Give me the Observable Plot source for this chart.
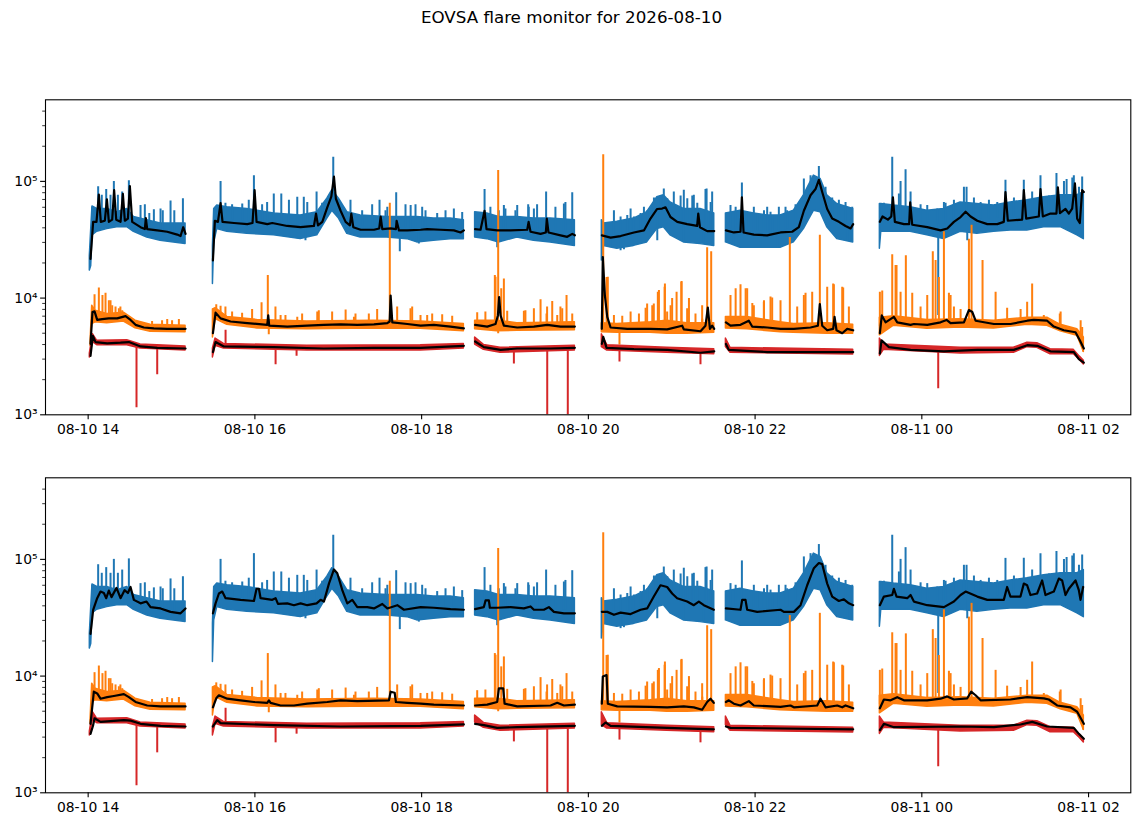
<!DOCTYPE html>
<html>
<head>
<meta charset="utf-8">
<script src="https://cdn.jsdelivr.net/npm/d3@7"></script>
<script src="https://cdn.jsdelivr.net/npm/@observablehq/plot@0.6"></script>
<style>
  body { margin: 0; background: white; }
  #fig { position: relative; width: 1143px; height: 826px; background: white; font-family: "DejaVu Sans", sans-serif; }
  #title { position: absolute; left: 0; top: 7px; width: 1143px; text-align: center; font-size: 16.7px; line-height: 20px; color: black; }
  .panel { position: absolute; left: 0; }
</style>
</head>
<body>
<div id="fig">
  <div id="title">EOVSA flare monitor for 2026-08-10</div>
  <div id="p1" class="panel" style="top:0px"></div>
  <div id="p2" class="panel" style="top:440px"></div>
</div>
<script>
// ---- data: time in minutes after 2026-08-10 14:00 UT ----
const segBreaks = [80, 274, 360, 455, 560];
const xTicks = [0, 120, 240, 360, 480, 600, 720];
const yMajor = [1e3, 1e4, 1e5];
const yMinor = [2e3,3e3,4e3,5e3,6e3,7e3,8e3,9e3,2e4,3e4,4e4,5e4,6e4,7e4,8e4,9e4,2e5,3e5,4e5];

// raw channel envelopes: [t, low, high]
const blueBand = [
 [1.2,1.72e4,2.3e4],[2.2,1.88e4,3.9e4],[3.1,3.45e4,6.1e4],[6.5,3.7e4,5.8e4],[13.7,3.9e4,5.8e4],[20.9,4.05e4,5.45e4],[28.1,4.05e4,5.8e4],[32.9,3.7e4,4.95e4],[42.5,3.3e4,4.65e4],[52.1,3.1e4,4.35e4],[61.7,3.0e4,4.35e4],[70.1,2.9e4,4.35e4],
 [89.8,1.32e4,2.8e4],[90.7,3.0e4,5.8e4],[92.9,3.9e4,6.2e4],[100.1,3.7e4,6.0e4],[114.5,3.55e4,5.8e4],[133.7,3.45e4,5.3e4],[152.9,3.2e4,5.1e4],[164.9,3.45e4,5.45e4],[172.1,4.8e4,7.1e4],[175.7,5.6e4,8.4e4],[180.5,4.8e4,7.1e4],[186.5,3.55e4,5.45e4],[196.1,3.3e4,5.1e4],[215.3,3.3e4,4.95e4],[229.7,3.2e4,4.95e4],[236.8,3.0e4,4.95e4],[248.8,3.1e4,4.8e4],[260.8,3.2e4,4.8e4],[270.4,3.2e4,4.65e4],
 [278.5,3.3e4,5.45e4],[287.2,3.2e4,5.3e4],[295.6,3.0e4,4.95e4],[308.8,3.3e4,4.95e4],[320.8,3.1e4,4.8e4],[332.8,3.0e4,4.8e4],[350.3,2.8e4,4.65e4],
 [369.7,2.1e4,4.65e4],[371.2,2.8e4,4.35e4],[380.8,2.65e4,4.5e4],[392.8,2.8e4,4.8e4],[402.3,3.0e4,5.45e4],[409.5,3.9e4,7.3e4],[414.3,4.05e4,7.6e4],[419.1,3.45e4,6.6e4],[428.7,3.0e4,5.8e4],[440.7,2.9e4,5.8e4],[450.6,2.8e4,5.3e4],
 [459.0,3.0e4,5.3e4],[469.5,2.7e4,5.6e4],[479.1,2.7e4,5.3e4],[488.7,2.7e4,5.1e4],[498.3,2.7e4,5.1e4],[507.9,3.0e4,5.6e4],[515.1,3.9e4,7.6e4],[522.3,5.6e4,1.12e5],[527.1,5.45e4,1.05e5],[531.9,4.05e4,7.6e4],[539.1,3.2e4,6.4e4],[550.6,3.0e4,5.8e4],
 [569.8,2.65e4,6.4e4],[570.8,3.7e4,6.4e4],[579.9,3.7e4,6.2e4],[591.9,3.7e4,6.0e4],[603.9,3.45e4,5.6e4],[615.9,3.2e4,5.8e4],[627.9,3.7e4,6.6e4],[639.9,3.55e4,6.4e4],[651.9,3.7e4,6.2e4],[663.9,3.8e4,6.6e4],[675.9,3.8e4,6.9e4],[687.9,4.05e4,7.3e4],[699.9,4.05e4,7.6e4],[711.9,3.45e4,7.6e4],[716.6,3.2e4,8.1e4]
];
const orangeBand = [
 [1.7,3.9e3,4.2e3],[2.9,6.0e3,8.6e3],[5.3,6.2e3,7.8e3],[13.7,6.1e3,7.3e3],[25.7,6.3e3,7.5e3],[34.1,5.5e3,6.4e3],[44.9,5.15e3,5.9e3],[70.1,5.1e3,5.8e3],
 [89.8,4.6e3,8.0e3],[91.7,6.6e3,8.2e3],[100.1,5.9e3,6.9e3],[121.7,5.5e3,6.5e3],[157.7,5.4e3,6.3e3],[205.7,5.5e3,6.4e3],[239.3,5.45e3,6.3e3],[270.4,5.2e3,6.0e3],
 [278.5,5.4e3,6.4e3],[294.4,5.2e3,6.4e3],[308.8,5.25e3,6.1e3],[350.3,5.3e3,6.2e3],
 [369.7,5.1e3,6.1e3],[380.8,5.05e3,6.0e3],[404.7,5.05e3,6.2e3],[416.7,4.95e3,6.4e3],[431.1,4.95e3,6.1e3],[450.6,5.05e3,6.1e3],
 [459.0,5.5e3,6.9e3],[474.3,5.4e3,6.9e3],[498.3,5.1e3,6.2e3],[507.9,5.05e3,6.0e3],[531.9,4.95e3,6.1e3],[550.6,4.95e3,5.9e3],
 [569.8,4.8e3,6.8e3],[579.9,5.8e3,7.0e3],[603.9,5.45e3,6.5e3],[627.9,5.6e3,6.6e3],[651.9,5.5e3,6.4e3],[675.9,5.9e3,6.8e3],[690.3,5.8e3,6.8e3],[699.9,5.2e3,5.9e3],[711.9,4.75e3,5.4e3],[716.6,3.45e3,4.6e3]
];
const redBand = [
 [1.2,3.1e3,3.35e3],[3.4,4.2e3,4.9e3],[6.5,3.95e3,4.3e3],[28.1,3.95e3,4.35e3],[37.7,3.7e3,4.0e3],[70.1,3.55e3,3.85e3],
 [89.8,3.1e3,3.7e3],[91.7,3.9e3,4.5e3],[97.7,3.7e3,4.05e3],[157.7,3.55e3,3.9e3],[239.3,3.55e3,3.95e3],[270.4,3.7e3,4.05e3],
 [278.5,4.0e3,4.6e3],[284.8,3.6e3,3.97e3],[296.8,3.4e3,3.75e3],[350.3,3.55e3,3.9e3],
 [369.7,3.8e3,4.9e3],[373.6,3.55e3,3.95e3],[416.7,3.4e3,3.75e3],[450.6,3.3e3,3.65e3],
 [459.0,3.8e3,4.5e3],[462.3,3.4e3,3.75e3],[550.6,3.28e3,3.6e3],
 [569.8,3.2e3,4.5e3],[572.7,3.6e3,4.0e3],[627.9,3.35e3,3.75e3],[666.2,3.4e3,3.75e3],[676.0,3.8e3,4.15e3],[683.1,3.75e3,4.1e3],[692.6,3.3e3,3.65e3],[709.4,3.3e3,3.6e3],[713.7,2.95e3,3.15e3],[716.6,2.7e3,2.9e3]
];

// raw channel spikes: [t, peak] and dips: [t, bottom]
const blueSpikes = [
 [2.9,6.0e4],[7.2,9.0e4],[9.8,7.6e4],[13.0,8.5e4],[16.1,7.6e4],[18.5,1.0e5],[21.4,7.6e4],[24.5,8.1e4],[29.3,1.01e5],[37.7,6.2e4],[40.8,6.3e4],[44.0,5.3e4],[47.3,5.7e4],[52.1,5.8e4],[53.7,5.6e4],[59.3,6.8e4],[62.0,5.6e4],[68.2,7.1e4],
 [95.3,1.0e5],[98.8,6.5e4],[103.6,6.3e4],[110.9,6.4e4],[115.6,6.9e4],[119.3,1.12e5],[125.2,6.3e4],[128.8,6.6e4],[133.6,7.8e4],[139.0,7.8e4],[144.5,6.9e4],[150.5,7.3e4],[155.2,7.3e4],[157.7,6.6e4],[164.4,8.1e4],[168.4,6.5e4],[176.4,1.61e5],[188.8,6.9e4],[197.2,5.6e4],[204.4,6.3e4],[209.7,6.9e4],[214.0,5.6e4],[215.3,6.0e4],[221.7,8.0e4],[228.4,6.3e4],[232.1,6.2e4],[235.6,6.3e4],[240.4,6.0e4],[242.8,5.6e4],[251.2,5.3e4],[257.2,5.6e4],[263.2,5.8e4],[269.2,5.4e4],
 [285.3,8.5e4],[289.5,6.0e4],[295.5,5.6e4],[299.2,6.2e4],[300.3,5.8e4],[307.5,5.6e4],[308.8,6.2e4],[316.7,6.3e4],[317.1,6.0e4],[320.8,5.8e4],[323.1,6.3e4],[329.6,8.1e4],[336.3,6.0e4],[342.4,6.4e4],[343.5,6.6e4],[348.4,8.0e4],
 [378.4,5.6e4],[383.2,4.95e4],[388.0,5.1e4],[390.4,5.8e4],[392.8,4.95e4],[397.6,5.3e4],[400.0,6.0e4],[402.4,5.6e4],[407.2,7.2e4],[412.0,7.5e4],[414.3,8.6e4],[416.8,7.1e4],[421.5,8.1e4],[426.4,7.5e4],[428.7,8.4e4],[431.2,7.1e4],[434.8,7.5e4],[435.9,7.6e4],[438.4,6.5e4],[444.3,8.5e4],[445.1,8.6e4],[448.0,6.6e4],[449.1,8.1e4],
 [462.3,6.2e4],[466.0,6.0e4],[470.5,9.7e4],[475.6,5.3e4],[479.1,6.0e4],[481.6,5.1e4],[486.4,5.6e4],[488.7,6.0e4],[491.1,5.45e4],[492.3,5.1e4],[497.1,6.0e4],[501.9,6.0e4],[503.1,5.6e4],[509.1,6.3e4],[515.1,1.05e5],[519.9,1.12e5],[525.9,1.34e5],[530.7,8.9e4],[535.5,7.2e4],[540.3,6.9e4],[545.1,6.6e4],[549.9,6.0e4],
 [572.7,6.5e4],[578.7,1.61e5],[583.5,7.8e4],[584.7,1.0e5],[588.3,1.26e5],[591.9,8.1e4],[599.1,6.3e4],[603.9,6.2e4],[611.1,5.8e4],[615.9,6.6e4],[617.1,6.5e4],[623.1,6.9e4],[630.3,8.9e4],[632.2,8.9e4],[637.5,7.2e4],[642.3,6.6e4],[648.3,6.9e4],[654.3,6.6e4],[660.2,1.02e5],[666.3,7.2e4],[673.4,1.02e5],[679.4,8.1e4],[685.4,1.12e5],[691.5,7.5e4],[696.9,1.17e5],[702.3,1.0e5],[704.2,1.04e5],[708.3,1.07e5],[709.4,1.12e5],[713.1,8.9e4],[715.4,1.09e5]
];
const blueDips = [[156.4,3.1e4],[224.3,2.5e4],[238.0,2.9e4],[294.4,2.7e4],[376.0,2.7e4],[383.2,2.55e4],[385.6,2.6e4],[409.6,3.1e4],[428.8,3.0e4],[443.2,2.9e4],[464.8,2.9e4],[484.0,2.8e4],[496.0,2.7e4],[546.3,3.1e4],[611.8,7.1e3],[632.7,3.1e4]];
const orangeSpikes = [
 [4.6,1.07e4],[7.7,1.22e4],[10.3,1.05e4],[12.5,1.1e4],[14.9,9.5e3],[16.1,9.5e3],[17.3,8.6e3],[19.7,8.4e3],[22.1,8.1e3],[23.2,8.4e3],[24.5,7.8e3],[46.0,6.3e3],[53.2,6.4e3],[56.9,6.55e3],[60.4,6.4e3],[65.3,6.55e3],
 [92.2,8.75e3],[95.3,8.5e3],[98.8,8.4e3],[103.6,7.6e3],[110.8,7.4e3],[118.0,8.0e3],[124.8,9.1e3],[129.3,1.56e4],[134.8,8.4e3],[138.5,7.1e3],[142.0,7.1e3],[150.5,6.85e3],[154.0,7.3e3],[164.9,7.6e3],[166.0,7.8e3],[175.6,7.6e3],[185.3,7.9e3],[191.3,6.85e3],[192.4,7.3e3],[202.0,7.3e3],[208.0,8.0e3],[217.1,6.5e4],[222.4,8.4e3],[232.0,8.1e3],[233.2,8.4e3],[239.2,7.1e3],[244.0,7.1e3],[247.6,7.3e3],[254.8,7.2e3],[262.0,7.0e3],
 [280.0,7.5e3],[285.9,7.6e3],[292.7,1.56e4],[293.2,1.51e4],[295.1,1.24e5],[297.3,1.2e4],[299.2,1.46e4],[301.6,7.7e3],[313.6,7.7e3],[314.7,7.8e3],[320.8,8.1e3],[325.6,9.7e3],[329.9,7.3e3],[330.3,8.4e3],[334.0,9.35e3],[337.6,7.1e3],[339.9,8.4e3],[341.2,8.1e3],[344.3,1.05e4],[348.4,7.3e3],
 [370.7,1.69e5],[373.1,1.5e4],[374.0,1.51e4],[378.4,7.1e3],[384.4,7.0e3],[390.4,7.6e3],[396.4,7.3e3],[401.2,8.2e3],[402.3,8.9e3],[406.0,8.6e3],[407.1,8.9e3],[410.0,1.12e4],[410.8,1.16e4],[414.9,1.24e4],[415.1,1.32e4],[416.7,7.6e3],[419.2,8.6e3],[420.3,9.9e3],[423.5,1.12e4],[426.9,1.37e4],[427.1,1.39e4],[431.1,8.1e3],[432.4,9.9e3],[437.1,7.3e3],[441.9,8.6e3],[442.0,6.6e3],[445.5,2.7e4],[448.4,2.5e4],
 [462.3,1.05e4],[466.0,1.2e4],[469.5,1.3e4],[473.2,1.2e4],[474.3,1.2e4],[478.0,9.0e3],[479.1,8.6e3],[486.3,9.2e3],[486.4,9.5e3],[491.1,1.02e4],[492.3,1.0e4],[498.3,9.5e3],[505.0,3.3e4],[510.3,8.4e3],[515.1,1.05e4],[516.3,1.1e4],[521.1,1.12e4],[526.6,3.45e4],[531.9,1.24e4],[536.2,1.32e4],[536.7,1.3e4],[542.7,1.24e4],[543.4,1.22e4],[547.5,8.4e3],
 [569.8,1.12e4],[571.5,1.15e4],[578.7,2.35e4],[581.1,1.9e4],[581.8,1.9e4],[584.7,1.12e4],[588.5,2.3e4],[593.1,1.1e4],[599.1,8.4e3],[603.9,1.05e4],[607.9,2.5e4],[609.9,2.1e4],[612.3,1.5e4],[615.9,3.7e4],[619.5,1.1e4],[620.7,1.05e4],[623.1,8.4e3],[627.9,8.0e3],[633.9,3.2e4],[635.8,4.2e4],[643.7,2.1e4],[653.1,1.12e4],[661.4,8.2e3],[671.1,8.0e3],[675.8,9.2e3],[679.4,1.32e4],[687.8,7.1e3],[699.3,7.3e3],[699.9,7.6e3],[714.3,6.4e3],[715.4,5.6e3]
];
const orangeDips = [[130.0,4.85e3],[295.1,4.95e3],[382.4,3.97e3],[716.0,3.45e3]];
const redSpikes = [[98.9,5.3e3]];
const redDips = [[34.8,1.15e3],[49.7,2.2e3],[134.9,2.68e3],[150.0,3.18e3],[306.4,2.73e3],[330.4,900],[345.2,900],[382.4,2.83e3],[440.7,2.68e3],[611.8,1.67e3]];

// smoothed curves, upper panel: [t, value]
const blueSmoothTop = [
 [1.7,2.17e4],[3.6,4.5e4],[6.0,4.5e4],[7.7,7.7e4],[9.1,4.5e4],[12.0,4.6e4],[13.5,7.0e4],[14.9,4.5e4],[17.3,4.7e4],[18.7,8.4e4],[20.2,4.7e4],[23.3,4.5e4],[25.0,7.8e4],[26.4,4.6e4],[28.6,4.8e4],[30.0,9.1e4],[31.7,4.5e4],[37.7,4.05e4],[40.8,3.9e4],[41.5,4.85e4],[42.5,3.9e4],[49.7,3.8e4],[56.9,3.7e4],[64.1,3.5e4],[66.5,3.4e4],[68.4,4.05e4],[70.1,3.55e4],
 [89.8,2.1e4],[91.2,4.6e4],[93.4,4.5e4],[95.3,6.5e4],[96.7,4.5e4],[104.9,4.4e4],[114.5,4.3e4],[118.3,4.4e4],[119.8,8.4e4],[121.2,4.5e4],[128.9,4.3e4],[132.5,4.4e4],[143.3,4.15e4],[152.9,4.05e4],[162.5,4.15e4],[164.0,5.3e4],[165.4,4.2e4],[168.5,4.5e4],[172.1,6.0e4],[175.0,7.4e4],[176.9,1.1e5],[178.3,7.1e4],[181.7,5.6e4],[185.3,4.5e4],[188.4,4.2e4],[189.4,5.3e4],[190.8,4.05e4],[196.1,3.85e4],[205.7,3.85e4],[209.5,3.95e4],[210.5,5.0e4],[211.7,3.9e4],[217.7,3.95e4],[221.5,3.9e4],[222.0,4.6e4],[223.7,3.8e4],[229.7,3.8e4],[239.3,3.85e4],[244.0,3.9e4],[253.6,3.85e4],[263.2,3.8e4],[268.0,3.65e4],[270.4,3.8e4],
 [278.5,3.9e4],[282.4,3.85e4],[285.3,5.6e4],[286.7,3.9e4],[294.4,3.8e4],[304.0,3.8e4],[316.0,3.85e4],[317.0,4.5e4],[318.4,3.7e4],[325.6,3.55e4],[329.4,3.65e4],[330.1,4.8e4],[331.3,3.65e4],[340.0,3.45e4],[344.8,3.35e4],[348.4,3.55e4],[350.3,3.45e4],
 [369.7,3.45e4],[376.0,3.3e4],[383.2,3.4e4],[392.8,3.65e4],[400.0,3.8e4],[404.7,4.8e4],[409.5,5.8e4],[413.1,5.85e4],[415.5,6.0e4],[419.1,4.95e4],[424.0,4.5e4],[431.1,4.3e4],[438.3,4.15e4],[439.1,5.3e4],[440.3,4.05e4],[445.5,3.75e4],[450.6,3.75e4],
 [459.0,3.8e4],[464.7,3.65e4],[469.5,3.7e4],[470.5,7.3e4],[471.7,3.65e4],[479.1,3.5e4],[488.7,3.45e4],[491.1,3.5e4],[498.3,3.65e4],[506.7,3.7e4],[511.5,4.05e4],[515.1,5.6e4],[519.9,7.6e4],[523.5,8.6e4],[525.9,1.03e5],[528.3,8.1e4],[531.9,5.8e4],[535.5,4.8e4],[540.3,4.5e4],[545.1,4.15e4],[548.7,3.95e4],[550.6,4.3e4],
 [569.8,4.5e4],[571.7,5.0e4],[575.6,4.7e4],[578.0,5.0e4],[579.2,7.3e4],[580.6,4.5e4],[587.1,4.3e4],[590.9,4.3e4],[591.6,6.6e4],[593.1,4.25e4],[603.9,4.05e4],[613.5,3.8e4],[618.3,3.95e4],[623.1,4.5e4],[627.9,4.95e4],[631.5,5.5e4],[635.1,5.0e4],[639.9,4.6e4],[647.1,4.3e4],[654.3,4.3e4],[659.0,4.5e4],[660.2,8.1e4],[661.9,4.6e4],[672.2,4.7e4],[673.4,8.4e4],[675.1,4.8e4],[684.2,5.0e4],[685.4,8.6e4],[687.1,5.0e4],[692.6,5.3e4],[696.9,5.3e4],[697.9,8.9e4],[699.4,5.35e4],[703.4,5.8e4],[705.8,5.3e4],[708.2,5.85e4],[710.2,9.6e4],[711.8,4.8e4],[713.7,4.4e4],[715.4,8.4e4],[716.6,8.1e4]
];
const orangeSmoothTop = [
 [1.7,4.05e3],[3.1,7.6e3],[4.6,7.7e3],[6.5,6.5e3],[10.1,6.6e3],[14.9,6.7e3],[20.9,6.7e3],[26.9,7.0e3],[30.5,6.5e3],[34.1,5.9e3],[40.1,5.6e3],[47.3,5.5e3],[56.9,5.45e3],[70.1,5.45e3],
 [89.8,5.0e3],[91.7,7.5e3],[95.3,6.7e3],[102.5,6.3e3],[114.5,6.1e3],[128.9,5.9e3],[129.6,7.1e3],[130.3,5.8e3],[143.3,5.7e3],[157.6,5.8e3],[169.6,5.9e3],[181.7,5.95e3],[193.7,5.9e3],[205.7,5.95e3],[215.3,6.1e3],[217.0,6.3e3],[217.7,1.05e4],[218.9,6.2e3],[229.7,6.0e3],[239.3,5.8e3],[248.8,5.9e3],[260.8,5.7e3],[270.4,5.5e3],
 [278.5,5.9e3],[287.2,5.7e3],[293.2,6.0e3],[294.9,7.1e3],[295.8,1.02e4],[296.8,7.1e3],[299.2,5.8e3],[308.8,5.6e3],[320.8,5.7e3],[330.4,5.9e3],[340.0,5.7e3],[350.3,5.7e3],
 [369.7,5.45e3],[370.4,2.25e4],[371.9,1.05e4],[373.6,6.9e3],[376.0,5.6e3],[388.0,5.45e3],[404.7,5.45e3],[416.7,5.4e3],[427.5,5.8e3],[428.7,5.4e3],[440.7,5.2e3],[444.3,5.8e3],[446.0,8.3e3],[447.5,5.45e3],[449.1,5.8e3],[450.6,5.45e3],
 [459.0,6.2e3],[462.3,5.8e3],[469.5,5.9e3],[475.5,6.4e3],[477.9,5.7e3],[488.7,5.6e3],[498.3,5.45e3],[507.9,5.45e3],[519.9,5.6e3],[525.2,5.8e3],[526.6,8.9e3],[528.3,5.8e3],[531.9,5.3e3],[536.2,5.45e3],[537.2,6.9e3],[538.6,5.3e3],[542.7,5.0e3],[546.3,5.45e3],[550.6,5.3e3],
 [569.8,5.0e3],[571.2,7.1e3],[573.9,6.2e3],[579.9,6.9e3],[582.3,6.2e3],[591.9,5.9e3],[594.3,6.0e3],[603.9,5.9e3],[613.5,6.2e3],[617.8,6.5e3],[620.7,6.1e3],[630.3,6.2e3],[633.9,7.9e3],[636.3,7.6e3],[638.7,6.4e3],[651.9,6.0e3],[663.9,6.0e3],[675.9,6.4e3],[680.6,6.5e3],[690.2,6.4e3],[695.0,5.7e3],[702.2,5.3e3],[710.6,5.1e3],[713.7,4.35e3],[716.6,3.7e3]
];
const redSmoothTop = [
 [1.7,3.2e3],[3.4,4.75e3],[5.3,4.2e3],[13.7,4.1e3],[23.3,4.15e3],[29.3,4.2e3],[37.7,3.85e3],[49.7,3.75e3],[70.1,3.7e3],
 [89.8,3.45e3],[91.7,4.2e3],[97.7,3.85e3],[133.6,3.8e3],[169.6,3.7e3],[205.7,3.75e3],[239.3,3.75e3],[270.4,3.9e3],
 [278.5,4.25e3],[284.8,3.8e3],[296.8,3.6e3],[308.8,3.7e3],[332.8,3.7e3],[350.3,3.75e3],
 [369.7,4.05e3],[370.7,4.65e3],[373.1,3.75e3],[392.8,3.65e3],[416.7,3.6e3],[440.7,3.4e3],[450.6,3.5e3],
 [459.0,4.05e3],[461.1,3.6e3],[488.7,3.45e3],[550.6,3.45e3],
 [569.8,3.35e3],[571.0,4.35e3],[576.3,3.8e3],[591.9,3.6e3],[615.9,3.5e3],[639.9,3.6e3],[666.2,3.6e3],[675.9,3.95e3],[683.1,3.9e3],[692.6,3.5e3],[709.4,3.45e3],[713.0,3.0e3],[716.6,2.8e3]
];

// smoothed curves, lower panel: [t, value]
const blueSmoothBottom = [
 [1.7,2.3e4],[3.6,3.7e4],[6.5,4.65e4],[8.9,5.3e4],[11.3,5.15e4],[13.0,4.65e4],[14.9,5.4e4],[16.8,4.75e4],[20.4,5.7e4],[23.3,4.65e4],[26.2,5.45e4],[28.6,5.15e4],[30.5,5.8e4],[32.9,4.5e4],[37.7,4.2e4],[42.0,4.35e4],[44.9,3.9e4],[52.1,3.8e4],[59.3,3.55e4],[66.5,3.45e4],[70.1,3.8e4],
 [89.8,3.45e4],[91.7,4.2e4],[94.1,5.1e4],[96.5,5.3e4],[98.9,4.65e4],[109.7,4.5e4],[119.3,4.4e4],[121.2,5.6e4],[122.9,5.6e4],[124.1,4.65e4],[132.5,4.5e4],[134.9,4.65e4],[136.6,4.15e4],[143.3,4.2e4],[148.1,4.05e4],[152.9,4.2e4],[157.7,4.05e4],[164.4,4.2e4],[167.3,4.5e4],[169.7,4.35e4],[173.3,6.2e4],[176.9,8.2e4],[179.3,7.6e4],[182.9,5.45e4],[186.5,4.2e4],[190.1,4.5e4],[193.7,3.9e4],[200.9,3.9e4],[205.7,3.8e4],[211.7,4.15e4],[215.3,3.8e4],[222.5,4.05e4],[227.3,3.7e4],[239.3,3.9e4],[248.8,3.85e4],[260.8,3.75e4],[270.4,3.7e4],
 [278.5,3.75e4],[284.8,3.9e4],[286.0,4.45e4],[288.4,4.45e4],[289.1,3.85e4],[294.4,3.85e4],[304.0,3.9e4],[313.6,3.8e4],[318.4,3.95e4],[320.8,3.7e4],[328.0,3.7e4],[331.6,3.9e4],[335.2,3.55e4],[342.4,3.45e4],[350.3,3.45e4],
 [369.7,3.55e4],[373.6,3.55e4],[378.4,3.35e4],[383.2,3.5e4],[390.4,3.4e4],[397.6,3.7e4],[402.3,3.8e4],[407.1,4.8e4],[411.9,6.0e4],[416.7,5.8e4],[420.3,5.1e4],[423.9,4.65e4],[431.1,4.35e4],[435.9,4.05e4],[439.5,4.35e4],[443.1,4.05e4],[450.3,3.7e4],
 [459.0,3.8e4],[469.5,3.7e4],[470.7,4.5e4],[473.1,4.5e4],[474.3,3.7e4],[481.5,3.55e4],[498.3,3.7e4],[500.7,3.55e4],[507.9,3.55e4],[512.7,4.05e4],[517.5,6.0e4],[522.3,8.4e4],[525.9,9.3e4],[528.3,9.1e4],[531.9,6.2e4],[535.5,4.8e4],[540.3,4.4e4],[543.9,4.55e4],[547.5,4.2e4],[550.6,4.05e4],
 [569.8,4.05e4],[572.7,4.8e4],[578.7,4.95e4],[579.9,5.6e4],[581.8,4.8e4],[589.5,4.65e4],[591.9,4.95e4],[594.3,4.35e4],[603.9,4.05e4],[615.9,3.9e4],[623.1,4.35e4],[627.9,4.95e4],[631.5,5.3e4],[639.9,4.8e4],[647.1,4.5e4],[659.0,4.5e4],[661.4,5.8e4],[663.8,4.8e4],[671.0,4.8e4],[673.4,6.2e4],[675.8,6.0e4],[678.2,4.95e4],[683.0,5.1e4],[686.6,6.6e4],[689.0,4.95e4],[695.0,5.3e4],[698.6,6.85e4],[701.0,6.6e4],[703.4,4.95e4],[705.8,5.6e4],[710.6,6.6e4],[713.0,5.45e4],[714.2,4.5e4],[716.1,5.8e4]
];
const orangeSmoothBottom = [
 [1.7,3.9e3],[4.1,7.35e3],[6.5,7.1e3],[8.9,6.4e3],[13.7,6.6e3],[18.5,6.75e3],[25.7,7.0e3],[29.3,6.6e3],[34.1,6.0e3],[42.5,5.6e3],[52.1,5.5e3],[70.1,5.5e3],
 [89.8,5.4e3],[92.2,6.45e3],[94.1,6.85e3],[100.1,6.4e3],[109.7,6.2e3],[119.3,6.0e3],[128.9,5.9e3],[130.1,6.2e3],[131.3,5.9e3],[138.5,5.6e3],[148.1,5.6e3],[157.7,5.8e3],[172.1,6.0e3],[181.7,6.2e3],[193.7,6.1e3],[216.5,6.2e3],[217.7,7.35e3],[220.6,7.2e3],[221.5,6.0e3],[229.7,5.9e3],[239.3,5.8e3],[248.8,5.7e3],[270.4,5.6e3],
 [278.5,5.6e3],[287.2,5.7e3],[294.4,6.0e3],[295.6,7.85e3],[298.7,7.85e3],[299.7,5.8e3],[308.8,5.5e3],[332.8,5.6e3],[337.6,5.9e3],[342.4,5.6e3],[350.3,5.7e3],
 [369.7,5.8e3],[370.4,9.9e3],[373.1,1.02e4],[374.0,5.8e3],[380.8,5.5e3],[404.7,5.45e3],[416.7,5.4e3],[428.7,5.5e3],[435.9,5.4e3],[441.9,5.15e3],[445.5,6.0e3],[447.9,6.4e3],[450.3,5.9e3],
 [459.0,6.0e3],[461.1,6.2e3],[464.7,5.8e3],[469.5,5.6e3],[475.5,6.1e3],[479.1,5.6e3],[498.3,5.45e3],[505.5,5.6e3],[507.9,5.4e3],[524.7,5.6e3],[527.1,6.4e3],[530.7,5.4e3],[539.1,5.6e3],[542.7,5.4e3],[545.1,5.6e3],[550.6,5.3e3],
 [569.8,5.3e3],[572.7,6.3e3],[577.5,6.2e3],[582.3,6.6e3],[587.1,6.2e3],[603.9,6.2e3],[613.5,6.4e3],[618.3,6.7e3],[623.1,6.3e3],[632.7,6.45e3],[635.5,7.35e3],[638.7,6.85e3],[642.3,6.2e3],[663.8,6.3e3],[675.8,6.6e3],[687.8,6.45e3],[691.4,6.3e3],[697.4,5.6e3],[707.0,5.4e3],[711.8,4.95e3],[716.6,3.9e3]
];
const redSmoothBottom = [
 [1.7,3.2e3],[3.6,3.8e3],[4.6,4.35e3],[8.9,4.05e3],[25.7,4.2e3],[30.5,4.15e3],[37.7,3.9e3],[52.1,3.75e3],[70.1,3.7e3],
 [89.8,3.7e3],[92.9,4.2e3],[95.3,3.95e3],[133.6,3.8e3],[181.7,3.7e3],[239.3,3.75e3],[270.4,3.85e3],
 [278.5,3.9e3],[284.8,3.8e3],[294.4,3.6e3],[308.8,3.65e3],[350.3,3.75e3],
 [369.7,3.75e3],[372.4,4.0e3],[376.0,3.75e3],[416.7,3.6e3],[450.3,3.5e3],
 [459.0,3.7e3],[462.3,3.6e3],[550.6,3.5e3],
 [569.8,3.45e3],[572.7,3.9e3],[579.9,3.65e3],[627.9,3.7e3],[651.9,3.65e3],[671.0,3.85e3],[679.5,4.05e3],[690.2,3.7e3],[709.4,3.6e3],[713.0,3.2e3],[716.6,2.9e3]
];

// ---- helpers ----
const BLUE = "#1f77b4", ORANGE = "#ff7f0e", RED = "#d62728";
const T0 = Date.UTC(2026, 7, 10, 14, 0);
const T = m => new Date(T0 + m * 60000);
const segOf = t => segBreaks.filter(b => t > b).length;
function midAt(band, t) {
  const s = segOf(t);
  const pts = band.filter(d => segOf(d[0]) === s);
  const g = d => Math.log(Math.sqrt(d[1] * d[2]));
  let i = pts.findIndex(d => d[0] >= t);
  if (i === -1) return Math.exp(g(pts[pts.length - 1]));
  if (i === 0) return Math.exp(g(pts[0]));
  const a = pts[i - 1], b = pts[i];
  const f = (t - a[0]) / (b[0] - a[0]);
  return Math.exp(g(a) + f * (g(b) - g(a)));
}
const supers = {1000: "10³", 10000: "10⁴", 100000: "10⁵"};

function rawMarks(band, spikes, dips, color) {
  return [
    Plot.areaY(band, {x: d => T(d[0]), y1: d => d[1], y2: d => d[2], z: d => segOf(d[0]), fill: color, stroke: color, strokeWidth: 1.5, clip: true}),
    Plot.ruleX(spikes, {x: d => T(d[0]), y1: d => midAt(band, d[0]), y2: d => d[1], stroke: color, strokeWidth: 2, clip: true}),
    Plot.ruleX(dips, {x: d => T(d[0]), y1: d => midAt(band, d[0]), y2: d => d[1], stroke: color, strokeWidth: 2, clip: true})
  ];
}

function panel(blackB, blackO, blackR, height, marginTop, marginBottom) {
  return Plot.plot({
    width: 1143, height, marginLeft: 45, marginRight: 12.7, marginTop, marginBottom,
    style: {fontFamily: "DejaVu Sans", fontSize: "13.9px", color: "black", background: "transparent", overflow: "visible"},
    x: {type: "utc", domain: [T(-30.7), T(750.4)]},
    y: {type: "log", domain: [1e3, 5e5]},
    marks: [
      ...rawMarks(blueBand, blueSpikes, blueDips, BLUE),
      ...rawMarks(orangeBand, orangeSpikes, orangeDips, ORANGE),
      ...rawMarks(redBand, redSpikes, redDips, RED),
      Plot.line(blackB, {x: d => T(d[0]), y: d => d[1], z: d => segOf(d[0]), stroke: "black", strokeWidth: 2.2, clip: true}),
      Plot.line(blackO, {x: d => T(d[0]), y: d => d[1], z: d => segOf(d[0]), stroke: "black", strokeWidth: 2.2, clip: true}),
      Plot.line(blackR, {x: d => T(d[0]), y: d => d[1], z: d => segOf(d[0]), stroke: "black", strokeWidth: 2.2, clip: true}),
      Plot.frame({stroke: "black", strokeWidth: 1.1}),
      Plot.axisX({ticks: xTicks.map(T), tickFormat: d3.utcFormat("%m-%d %H"), tickSize: 4.9, tickPadding: 4, strokeWidth: 1.1, label: null, fontSize: 13.9}),
      Plot.axisY({ticks: yMajor, tickFormat: d => supers[d], tickSize: 4.9, tickPadding: 3, strokeWidth: 1.1, label: null, fontSize: 13.9}),
      Plot.axisY({ticks: yMinor, tickFormat: () => "", tickSize: 2.8, strokeWidth: 0.8, label: null})
    ]
  });
}

document.getElementById("p1").append(panel(blueSmoothTop, orangeSmoothTop, redSmoothTop, 440, 99.3, 25.7));
document.getElementById("p2").append(panel(blueSmoothBottom, orangeSmoothBottom, redSmoothBottom, 386, 37.3, 33.7));
</script>
</body>
</html>
